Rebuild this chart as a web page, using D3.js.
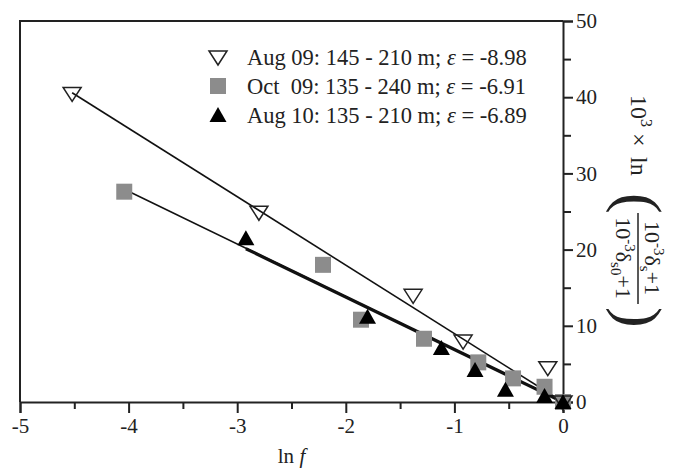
<!DOCTYPE html>
<html>
<head>
<meta charset="utf-8">
<script src="https://cdn.jsdelivr.net/npm/d3@7"></script>
<style>
  body { margin: 0; background: #fff; }
  svg text { font-family: "Liberation Serif", "DejaVu Serif", "Times New Roman", serif; fill: #222; }
</style>
</head>
<body>
<div id="chart"></div>
<script>

// Data: x = ln f, y = 10^3 x ln(...)
var aug09X = [-4.52, -2.80, -1.38, -0.92, -0.14, 0];
var aug09Y = [40.5, 24.9, 14.0, 8.0, 4.5, 0];
var oct09X = [-4.04, -2.21, -1.86, -1.28, -0.78, -0.46, -0.17, 0];
var oct09Y = [27.6, 18.0, 10.8, 8.3, 5.2, 3.1, 2.0, 0];
var aug10X = [-2.92, -1.80, -1.12, -0.81, -0.53, -0.17, 0];
var aug10Y = [21.5, 11.2, 7.1, 4.2, 1.6, 0.8, 0];

// fitted slopes (epsilon) shown in the legend
var slopes = [-8.98, -6.91, -6.89];
var legendNames = ["Aug 09: 145 - 210 m; ", "Oct  09: 135 - 240 m; ", "Aug 10: 135 - 210 m; "];

var xTicks = [-5, -4, -3, -2, -1, 0];
var yTicks = [0, 10, 20, 30, 40, 50];

var width = 684;
var height = 470;
var padding = {top: 21, right: 121, bottom: 68, left: 20};

var svg = d3.select("#chart")
	.append("svg")
	.attr("width", width)
	.attr("height", height);

var xScale = d3.scaleLinear()
	.domain([-5, 0])
	.range([padding.left, width - padding.right]);

var yScale = d3.scaleLinear()
	.domain([0, 50])
	.range([height - padding.bottom, padding.top]);

var x0 = xScale(-5), x1 = xScale(0);
var y0 = yScale(0), y1 = yScale(50);

// frame: left and top lines
svg.append("path")
	.attr("d", "M" + x0 + "," + y0 + "V" + y1 + "H" + x1)
	.attr("fill", "none")
	.attr("stroke", "#222")
	.attr("stroke-width", 2);

// bottom axis
var xAxis = svg.append("g")
	.attr("transform", "translate(0," + y0 + ")")
	.call(d3.axisBottom(xScale).tickValues(xTicks).tickSize(11).tickPadding(5)
		.tickFormat(function(d) { return d; }));
xAxis.append("g")
	.call(d3.axisBottom(xScale).tickValues(d3.range(-4.5, 0, 1)).tickSize(7).tickFormat(""));
xAxis.selectAll("path.domain").attr("stroke-width", 2).attr("stroke", "#222");
xAxis.selectAll("g g path.domain").remove();
xAxis.selectAll(".tick line").attr("stroke-width", 2).attr("stroke", "#222");
xAxis.selectAll(".tick text")
	.style("font-size", "21px")
	.attr("fill", "#222");

// right axis
var yAxis = svg.append("g")
	.attr("transform", "translate(" + x1 + ",0)")
	.call(d3.axisRight(yScale).tickValues(yTicks).tickSize(10).tickPadding(3));
yAxis.append("g")
	.call(d3.axisRight(yScale).tickValues(d3.range(5, 50, 10)).tickSize(8).tickFormat(""));
yAxis.selectAll("path.domain").attr("stroke-width", 2).attr("stroke", "#222");
yAxis.selectAll("g g path.domain").remove();
yAxis.selectAll(".tick line").attr("stroke-width", 2).attr("stroke", "#222");
yAxis.selectAll(".tick text")
	.style("font-size", "21px")
	.attr("fill", "#222");

// x axis title
var xt = svg.append("text")
	.attr("x", xScale(-2.5))
	.attr("y", 463)
	.attr("text-anchor", "middle")
	.style("font-size", "21px");
xt.append("tspan").text("ln ");
xt.append("tspan").style("font-style", "italic").text("f");

// y axis title, rotated clockwise
var yt = svg.append("g")
	.attr("transform", "translate(639,95) rotate(90)");
var t1 = yt.append("text").attr("y", 8).style("font-size", "24px");
t1.append("tspan").attr("x", 0).text("10");
t1.append("tspan").attr("dy", -10).style("font-size", "16px").text("3");
t1.append("tspan").attr("x", 38).attr("dy", 10).text("\u00d7");
t1.append("tspan").attr("x", 62).text("ln");
yt.append("text").attr("x", 98).attr("y", 20)
	.style("font-size", "62px").style("font-weight", "300").text("(");
var num = yt.append("text").attr("x", 163).attr("y", -6).attr("text-anchor", "middle").style("font-size", "22px");
num.append("tspan").text("10");
num.append("tspan").attr("dy", -9).style("font-size", "15px").text("-3");
num.append("tspan").attr("dy", 9).text("\u03b4");
num.append("tspan").attr("dy", 5).style("font-size", "15px").text("s");
num.append("tspan").attr("dy", -5).text("+1");
var den = yt.append("text").attr("x", 163).attr("y", 23).attr("text-anchor", "middle").style("font-size", "22px");
den.append("tspan").text("10");
den.append("tspan").attr("dy", -9).style("font-size", "15px").text("-3");
den.append("tspan").attr("dy", 9).text("\u03b4");
den.append("tspan").attr("dy", 5).style("font-size", "15px").text("s0");
den.append("tspan").attr("dy", -5).text("+1");
yt.append("line").attr("x1", 118).attr("x2", 209).attr("y1", 1).attr("y2", 1)
	.attr("stroke", "#222").attr("stroke-width", 1.5);
yt.append("text").attr("x", 212).attr("y", 20)
	.style("font-size", "62px").style("font-weight", "300").text(")");

// fit lines through the origin: y = eps * x
var lines = [
	{xmin: d3.min(aug09X), eps: slopes[0], w: 1.6},
	{xmin: d3.min(oct09X), eps: slopes[1], w: 1.6},
	{xmin: d3.min(aug10X), eps: slopes[2], w: 3.2}
];
var lineFn = d3.line()
	.x(function(d) { return xScale(d[0]); })
	.y(function(d) { return yScale(d[1]); });
svg.append("g").selectAll("path")
	.data(lines)
	.enter().append("path")
	.attr("d", function(l) { return lineFn([[l.xmin, l.eps * l.xmin], [0, 0]]); })
	.attr("fill", "none")
	.attr("stroke", "#111")
	.attr("stroke-width", function(l) { return l.w; });

// marker shapes
var downTri = "M-9,-6L9,-6L0,8Z";
var upTri = "M-8.5,7L8.5,7L0,-8Z";
var square = "M-8,-8H8V8H-8Z";

function drawSeries(xs, ys, shape, fill, stroke) {
	svg.append("g").selectAll("path")
		.data(d3.zip(xs, ys))
		.enter().append("path")
		.attr("d", shape)
		.attr("transform", function(d) { return "translate(" + xScale(d[0]) + "," + yScale(d[1]) + ")"; })
		.attr("fill", fill)
		.attr("stroke", stroke)
		.attr("stroke-width", 1.5);
}
drawSeries(oct09X, oct09Y, square, "#8c8c8c", "none");
drawSeries(aug09X, aug09Y, downTri, "none", "#222");
drawSeries(aug10X, aug10Y, upTri, "#000", "none");

// legend
var legShapes = [downTri, square, upTri];
var legFill = ["#fff", "#8c8c8c", "#000"];
var legStroke = ["#222", "none", "none"];
var legY = [57, 86, 115];
var leg = svg.append("g");
legendNames.forEach(function(name, i) {
	leg.append("path")
		.attr("d", legShapes[i])
		.attr("transform", "translate(218," + legY[i] + ")")
		.attr("fill", legFill[i])
		.attr("stroke", legStroke[i])
		.attr("stroke-width", 1.5);
	var t = leg.append("text")
		.attr("x", 247)
		.attr("y", legY[i] + 8)
		.style("font-size", "22.5px")
		.style("white-space", "pre");
	t.append("tspan").text(name);
	t.append("tspan").style("font-style", "italic").text("\u03b5");
	t.append("tspan").text(" = " + slopes[i]);
});

</script>
</body>
</html>
